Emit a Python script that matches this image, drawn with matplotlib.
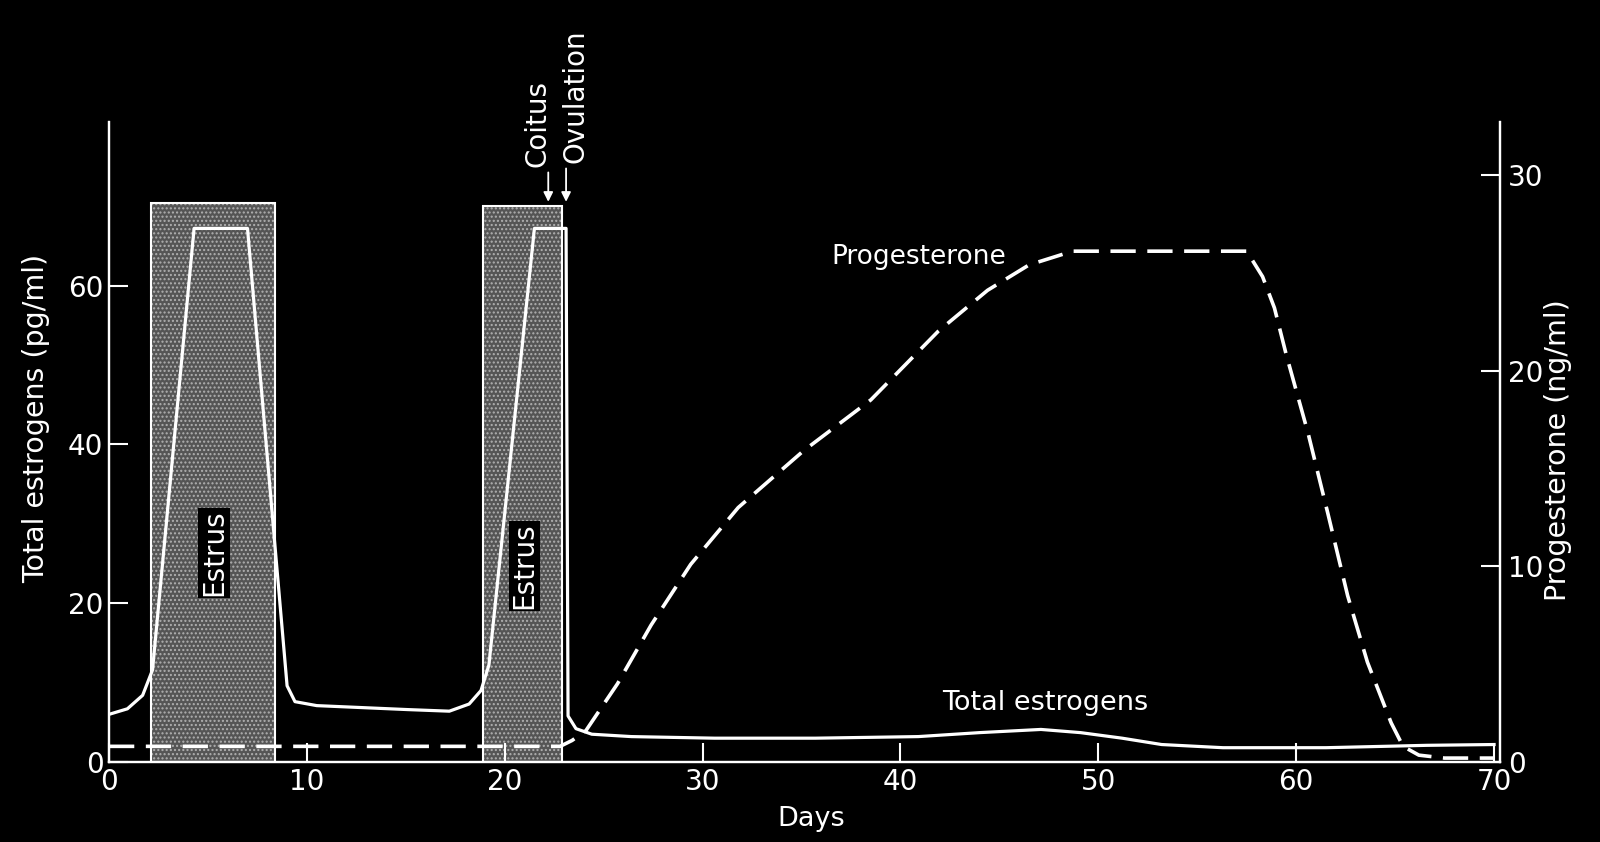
import matplotlib
matplotlib.use("Agg")
import matplotlib.pyplot as plt
from matplotlib.patches import Rectangle

plt.rcParams['font.family'] = ['DejaVu Sans']

# ---- data ----
estro_days = [0, 0.93, 1.7, 2.2, 4.3, 7.0, 9.0, 9.4, 10.5, 15.1, 17.2, 18.2, 18.8, 19.2,
              21.5, 23.1, 23.2, 23.6, 24.4, 26.4, 30.6, 35.7, 40.9, 44.0, 47.1, 49.1,
              51.2, 53.2, 56.3, 61.5, 66.6, 70]
estro_vals = [6.0, 6.7, 8.4, 11.6, 67.2, 67.2, 9.6, 7.6, 7.1, 6.6, 6.4, 7.3, 9.0, 12.2,
              67.2, 67.2, 5.8, 4.2, 3.5, 3.2, 3.0, 3.0, 3.2, 3.7, 4.1, 3.7,
              3.0, 2.2, 1.8, 1.8, 2.1, 2.2]

prog_days = [0, 22.8, 23.4, 24.1, 25.7, 27.4, 29.4, 31.8, 35.1, 38.5, 41.9, 44.4, 46.5,
             48.7, 57.5, 58.3, 58.9, 59.5, 60.6, 61.6, 62.6, 63.6, 64.8, 65.4, 66.2,
             67.5, 70]
prog_vals = [0.8, 0.8, 1.1, 1.6, 4.0, 7.0, 10.1, 13.0, 15.9, 18.5, 22.0, 24.1, 25.4,
             26.1, 26.1, 24.8, 23.2, 20.8, 16.8, 12.7, 8.5, 5.1, 2.0, 0.8, 0.35,
             0.2, 0.2]

estrus_start = [2.1, 18.9]
estrus_end = [8.4, 22.9]
estrus_top = [70.4, 70.0]
estrus_label_y = [26.3, 24.7]

x_ticks = [0, 10, 20, 30, 40, 50, 60, 70]
left_ticks = [0, 20, 40, 60]
right_ticks = [0, 10, 20, 30]

coitus_day = 22.2
ovulation_day = 23.1

# ---- figure ----
W, H = 1600, 842
fig = plt.figure(figsize=(W / 100, H / 100), dpi=100, facecolor='black')
ax_l, ax_r, ax_b, ax_t = 109, 1500, 762, 122
ax = fig.add_axes([ax_l / W, 1 - ax_b / H, (ax_r - ax_l) / W, (ax_b - ax_t) / H])
ax.set_facecolor('black')
ax.set_xlim(0, 70.3)
ax.set_ylim(0, 80.6)
ax2 = ax.twinx()
ax2.set_ylim(0, 32.7)

white = 'white'
for a in (ax, ax2):
    a.spines['top'].set_visible(False)
    for s in ('left', 'right', 'bottom'):
        a.spines[s].set_color(white)
        a.spines[s].set_linewidth(1.6)

# estrus boxes
for s, e, t, ly in zip(estrus_start, estrus_end, estrus_top, estrus_label_y):
    ax.add_patch(Rectangle((s, 0), e - s, t, facecolor='#555555', edgecolor='#b0b0b0',
                           hatch='....', linewidth=0, zorder=1))
    ax.add_patch(Rectangle((s, 0), e - s, t, facecolor='none', edgecolor=white,
                           linewidth=1.5, zorder=2))
    ax.text((s + e) / 2 + (0.05 if s < 10 else 0.1), ly, 'Estrus', rotation=90, color=white,
            fontsize=20, ha='center', va='center', zorder=5,
            bbox=dict(facecolor='black', edgecolor='none', pad=1.5))

ax.plot(estro_days, estro_vals, color=white, lw=2.3, zorder=4, solid_joinstyle='round')
ax2.plot(prog_days, prog_vals, color=white, lw=2.6, dashes=(7, 3.2), zorder=4)

ax.set_xticks(x_ticks)
ax.set_yticks(left_ticks)
ax2.set_yticks(right_ticks)
ax.tick_params(axis='x', direction='in', length=14, width=1.5, color=white,
               labelcolor=white, labelsize=20, pad=4)
ax.tick_params(axis='y', direction='in', length=14, width=1.5, color=white,
               labelcolor=white, labelsize=20, pad=4)
ax2.tick_params(axis='y', direction='in', length=14, width=1.5, color=white,
                labelcolor=white, labelsize=20, pad=6)

# annotations
ax.text(40.9, 63.6, 'Progesterone', color=white, fontsize=19, ha='center', va='center')
ax.text(47.3, 7.4, 'Total estrogens', color=white, fontsize=19.5, ha='center', va='center')

ax.annotate('', xy=(coitus_day, 70.2), xytext=(coitus_day, 74.6),
            arrowprops=dict(arrowstyle='-|>', color=white, lw=1.3, mutation_scale=14),
            annotation_clip=False)
ax.annotate('', xy=(ovulation_day, 70.2), xytext=(ovulation_day, 75.1),
            arrowprops=dict(arrowstyle='-|>', color=white, lw=1.3, mutation_scale=14),
            annotation_clip=False)
ax.text(21.65, 74.9, 'Coitus', rotation=90, color=white, fontsize=20,
        ha='center', va='bottom', clip_on=False)
ax.text(23.6, 75.4, 'Ovulation', rotation=90, color=white, fontsize=20,
        ha='center', va='bottom', clip_on=False)

fig.text(36 / W, 1 - 418 / H, 'Total estrogens (pg/ml)', rotation=90, color=white,
         fontsize=20.5, ha='center', va='center')
fig.text(1558 / W, 1 - 450 / H, 'Progesterone (ng/ml)', rotation=90, color=white,
         fontsize=20.5, ha='center', va='center')
fig.text(811 / W, 1 - 819 / H, 'Days', color=white, fontsize=19.5, ha='center', va='center')

fig.savefig('out.png', dpi=100, facecolor='black')
